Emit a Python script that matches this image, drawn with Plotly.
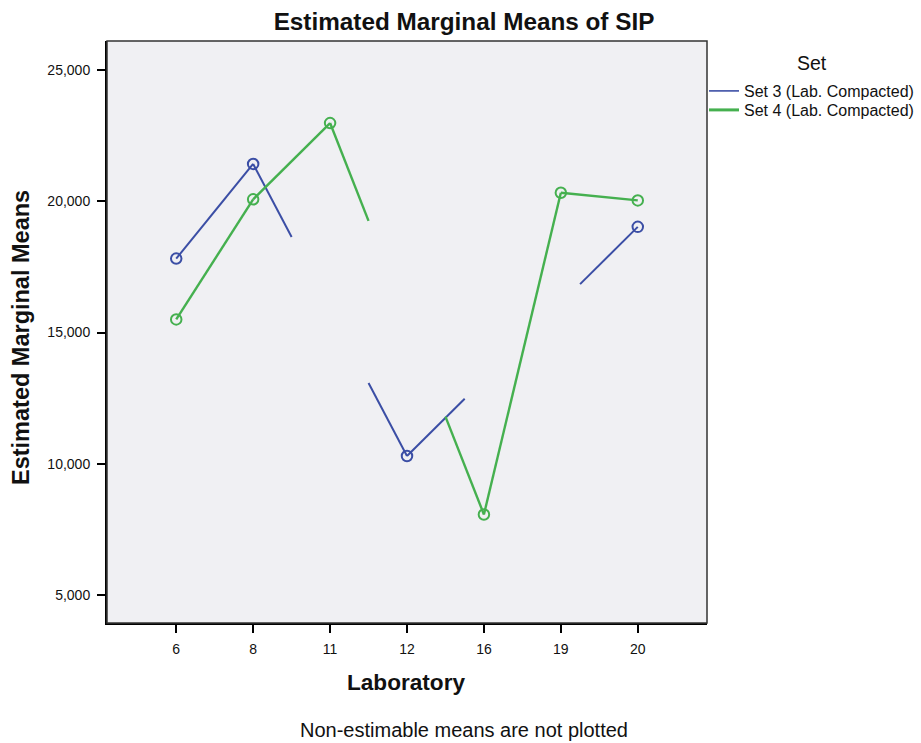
import plotly.graph_objects as go

# ---- data ----
labs = ["6", "8", "11", "12", "16", "19", "20"]
set3 = [17820, 21430, None, 10290, None, None, 19030]   # Set 3 (Lab. Compacted)
set4 = [15500, 20080, 22990, None, 8060, 20330, 20040]  # Set 4 (Lab. Compacted)
y_ticks = [5000, 10000, 15000, 20000, 25000]
y_tick_text = ["5,000", "10,000", "15,000", "20,000", "25,000"]

BLUE = "#3b4ea5"
GREEN = "#45b04f"


def line_path(vals):
    """Consecutive estimable means are joined; across non-estimable
    categories SPSS draws only a quarter of the connecting line from each end."""
    idx = [i for i, v in enumerate(vals) if v is not None]
    xs, ys = [], []
    for a, b in zip(idx[:-1], idx[1:]):
        ya, yb = vals[a], vals[b]
        if b - a == 1:
            xs += [a, b, None]
            ys += [ya, yb, None]
        else:
            q = (b - a) / 4.0
            slope = (yb - ya) / (b - a)
            xs += [a, a + q, None, b - q, b, None]
            ys += [ya, ya + slope * q, None, yb - slope * q, yb, None]
    return xs, ys


fig = go.Figure()
for vals, color, lw in [(set3, BLUE, 2.0), (set4, GREEN, 2.4)]:
    xs, ys = line_path(vals)
    fig.add_trace(go.Scatter(x=xs, y=ys, mode="lines", line=dict(color=color, width=lw),
                             showlegend=False, hoverinfo="skip"))
    px = [i for i, v in enumerate(vals) if v is not None]
    py = [v for v in vals if v is not None]
    fig.add_trace(go.Scatter(x=px, y=py, mode="markers",
                             marker=dict(symbol="circle-open", size=10.5, color=color,
                                         line=dict(width=2, color=color)),
                             showlegend=False))

# legend-only traces (line samples), one legend each so their rows can be placed exactly
fig.add_trace(go.Scatter(x=[None], y=[None], mode="lines", name="Set 3 (Lab. Compacted)",
                         line=dict(color=BLUE, width=1.6), legend="legend"))
fig.add_trace(go.Scatter(x=[None], y=[None], mode="lines", name="Set 4 (Lab. Compacted)",
                         line=dict(color=GREEN, width=3), legend="legend2"))

FONT = "Liberation Sans, Arial, sans-serif"
W, H = 921, 743
PL, PR, PT, PB = 107, 707, 41, 623   # plot area in pixels
L, T, R, B = PL, PT, W - PR, H - PB
pw, ph = PR - PL, PB - PT


def px2x(x):
    return (x - PL) / pw


def px2y(y):
    return (PB - y) / ph


legend_common = dict(xanchor="left", yanchor="top", font=dict(size=16, color="#111"),
                     bgcolor="rgba(0,0,0,0)", itemwidth=30, tracegroupgap=0)

fig.update_layout(
    width=W, height=H,
    margin=dict(l=L, r=R, t=T, b=B, pad=0, autoexpand=False),
    paper_bgcolor="white",
    plot_bgcolor="#f0f0f3",
    font=dict(family=FONT, color="black"),
    title=dict(text="<b>Estimated Marginal Means of SIP</b>", x=464 / W, xanchor="center",
               xref="container", y=1 - 21 / H, yanchor="middle", yref="container",
               font=dict(size=24.3, color="#111")),
    showlegend=True,
    legend=dict(x=px2x(704), y=px2y(74), **legend_common),
    legend2=dict(x=px2x(704), y=px2y(93), **legend_common),
    xaxis=dict(range=[-0.9, 6.9], tickmode="array", tickvals=list(range(len(labs))),
               ticktext=labs, showgrid=False, zeroline=False,
               showline=True, linecolor="black", linewidth=2, mirror=False,
               ticks="outside", ticklen=8, tickwidth=2, tickcolor="black",
               tickfont=dict(size=14, color="#111"), ticklabelstandoff=4),
    yaxis=dict(range=[3920, 26120], tickmode="array", tickvals=y_ticks, ticktext=y_tick_text,
               showgrid=False, zeroline=False,
               showline=True, linecolor="black", linewidth=2, mirror=False,
               ticks="outside", ticklen=8, tickwidth=2, tickcolor="black",
               tickfont=dict(size=14, color="#111"), ticklabelstandoff=4),
    shapes=[dict(type="rect", xref="paper", yref="paper", x0=0, x1=1, y0=0, y1=1,
                 line=dict(color="#333", width=1.5), fillcolor="rgba(0,0,0,0)", layer="above")],
    annotations=[
        dict(text="<b>Estimated Marginal Means</b>", xref="paper", yref="paper",
             x=px2x(21), y=px2y(338), xanchor="center", yanchor="middle", textangle=-90,
             showarrow=False, font=dict(size=23.5, color="#111")),
        dict(text="<b>Laboratory</b>", xref="paper", yref="paper",
             x=px2x(406), y=px2y(682), xanchor="center", yanchor="middle",
             showarrow=False, font=dict(size=22.6, color="#111")),
        dict(text="Non-estimable means are not plotted", xref="paper", yref="paper",
             x=px2x(464), y=px2y(730), xanchor="center", yanchor="middle",
             showarrow=False, font=dict(size=20, color="#111")),
        dict(text="Set", xref="paper", yref="paper",
             x=px2x(812), y=px2y(63), xanchor="center", yanchor="middle",
             showarrow=False, font=dict(size=19.5, color="#111")),
    ],
)

fig.write_html("out.html", config={"displayModeBar": False},
               post_script="document.body.style.margin='0';")
